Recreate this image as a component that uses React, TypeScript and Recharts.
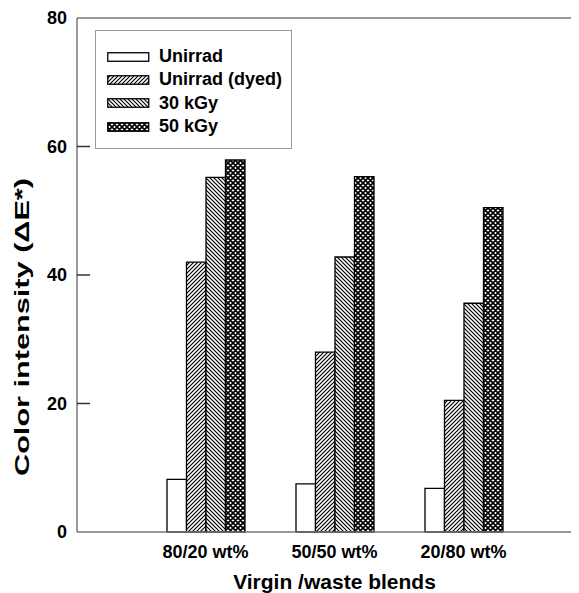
import React from 'react';
import { BarChart, Bar, XAxis, YAxis, Legend, ReferenceLine } from 'recharts';

const categories = ['80/20 wt%', '50/50 wt%', '20/80 wt%'];
const unirrad = [8.2, 7.5, 6.8];
const unirradDyed = [42.0, 28.0, 20.5];
const kGy30 = [55.2, 42.8, 35.6];
const kGy50 = [57.9, 55.3, 50.5];
const yTicks = [0, 20, 40, 60, 80];

const seriesNames = ['Unirrad', 'Unirrad (dyed)', '30 kGy', '50 kGy'];
const seriesKeys = ['unirrad', 'dyed', 'k30', 'k50'];
const seriesFills = ['#ffffff', 'url(#p-dyed)', 'url(#p-k30)', 'url(#p-k50)'];

const data = categories.map((c, i) => ({
  name: c,
  unirrad: unirrad[i],
  dyed: unirradDyed[i],
  k30: kGy30[i],
  k50: kGy50[i],
}));

const FONT = '"Liberation Sans", Arial, Helvetica, sans-serif';

const Patterns = ({ prefix }: { prefix: string }) => (
  <defs>
    <pattern id={`${prefix}dyed`} width={4} height={4} patternUnits="userSpaceOnUse">
      <rect width={4} height={4} fill="#fff" />
      <path d="M-1,1 L1,-1 M0,4 L4,0 M3,5 L5,3" stroke="#000" strokeWidth={1.2} />
    </pattern>
    <pattern id={`${prefix}k30`} width={4} height={4} patternUnits="userSpaceOnUse">
      <rect width={4} height={4} fill="#fff" />
      <path d="M-1,3 L1,5 M0,0 L4,4 M3,-1 L5,1" stroke="#000" strokeWidth={1.2} />
    </pattern>
    <pattern id={`${prefix}k50`} width={5} height={5} patternUnits="userSpaceOnUse">
      <rect width={5} height={5} fill="#fff" />
      <path d="M-1,1 L1,-1 M0,5 L5,0 M4,6 L6,4 M-1,4 L1,6 M0,0 L5,5 M4,-1 L6,1" stroke="#000" strokeWidth={1.7} />
    </pattern>
  </defs>
);

const YTick = (props: any) => {
  const { x, y, payload } = props;
  const v = payload.value;
  return (
    <g>
      <text x={x} y={y} textAnchor="end" dominantBaseline="central" fill="#000"
        style={{ fontFamily: FONT, fontSize: 18, fontWeight: 700 }}>{v}</text>
      {v !== 0 && v !== 80 ? (
        <line x1={x + 10} x2={x + 23} y1={y} y2={y} stroke="#333" strokeWidth={1.5} />
      ) : null}
    </g>
  );
};

const LegendBox = () => (
  <div style={{
    width: 197, height: 119, boxSizing: 'border-box', border: '1.5px solid #9a9a9a',
    background: '#fff', padding: '14px 0 0 11px', fontFamily: FONT, fontSize: 18, fontWeight: 700, color: '#000',
  }}>
    {seriesNames.map((n, i) => (
      <div key={n} style={{ display: 'flex', alignItems: 'center', height: 23.3, lineHeight: '23.3px', whiteSpace: 'nowrap' }}>
        <svg width={43} height={10} style={{ marginRight: 9, display: 'block' }}>
          <Patterns prefix={`lg${i}-`} />
          <rect x={0.75} y={0.75} width={41} height={8.5}
            fill={i === 0 ? '#fff' : `url(#lg${i}-${seriesKeys[i]})`} stroke="#000" strokeWidth={1.3} />
        </svg>
        <span>{n}</span>
      </div>
    ))}
  </div>
);

const YLabel = () => (
  <text x={14} y={319} transform="rotate(-90 14 319)" textAnchor="middle" dominantBaseline="central"
    fill="#000" textLength={298} lengthAdjust="spacingAndGlyphs"
    style={{ fontFamily: FONT, fontSize: 20, fontWeight: 700 }}>
    Color intensity (ΔE*)
  </text>
);

export default function App() {
  return (
    <div style={{ width: 571, height: 585, overflow: 'hidden', position: 'relative' }}>
      <BarChart width={600} height={585} data={data} barGap={0} barSize={19.5}
        margin={{ top: 10, right: 16, left: 9, bottom: 0 }}>
        <Patterns prefix="p-" />
        <XAxis dataKey="name" type="category" height={61} padding={{ left: 64, right: 64 }}
          axisLine={{ stroke: '#777', strokeWidth: 1.5 }} tickLine={false} tickSize={0} tickMargin={13}
          tick={{ fill: '#000', fontSize: 18, fontWeight: 700, fontFamily: FONT }}
          label={{ value: 'Virgin /waste blends', position: 'insideBottom', offset: 4.5, fill: '#000',
            style: { fontFamily: FONT, fontSize: 21, fontWeight: 700 } }} />
        <YAxis type="number" domain={[0, 80]} ticks={yTicks} width={60} interval={0}
          axisLine={{ stroke: '#777', strokeWidth: 1.5 }} tickLine={false} tickSize={0} tickMargin={10}
          tick={<YTick />} label={<YLabel />} />
        <ReferenceLine y={80} stroke="#777" strokeWidth={1.5} />
        <Legend layout="vertical" align="center" verticalAlign="middle"
          wrapperStyle={{ left: 87, top: 22, width: 197, height: 119 }} content={<LegendBox />} />
        {seriesKeys.map((k, i) => (
          <Bar key={k} dataKey={k} name={seriesNames[i]} fill={seriesFills[i]}
            stroke="#000" strokeWidth={1.3} isAnimationActive={false} />
        ))}
      </BarChart>
    </div>
  );
}
